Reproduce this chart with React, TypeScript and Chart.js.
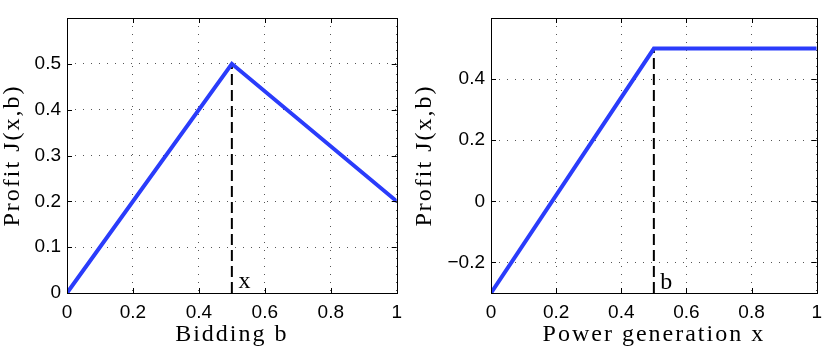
import React, { useEffect, useRef } from 'react';
import { Chart, registerables } from 'chart.js';

Chart.register(...registerables);

// ---- data ----
const xTicks = [0, 0.2, 0.4, 0.6, 0.8, 1];

const bidX = [0, 0.5, 1];
const bidProfit = [0, 0.5, 0.2];
const bidYTicks = [0, 0.1, 0.2, 0.3, 0.4, 0.5];
const bidMarkerX = [0.5, 0.5];
const bidMarkerY = [0, 0.5];

const powX = [0, 0.5, 1];
const powProfit = [-0.3, 0.5, 0.5];
const powYTicks = [-0.2, 0, 0.2, 0.4];
const powMarkerX = [0.5, 0.5];
const powMarkerY = [-0.3, 0.5];

const BLUE = '#2a3cfb';
const SERIF = '"Liberation Serif", "Times New Roman", serif';
const SANS = '"Liberation Sans", Arial, sans-serif';

const fmt = (v: number) => (v < 0 ? '\u2212' + String(Math.abs(v)) : String(v));

const decor = {
  id: 'decor',
  afterDraw(chart: any, _args: any, opts: any) {
    const { ctx, chartArea: a, scales } = chart;
    const x = scales.x;
    const y = scales.y;
    ctx.save();
    ctx.strokeStyle = '#000';
    ctx.lineWidth = 1;
    ctx.setLineDash([]);
    ctx.beginPath();
    for (const t of opts.xTicks) {
      const px = Math.round(x.getPixelForValue(t)) + 0.5;
      ctx.moveTo(px, a.bottom);
      ctx.lineTo(px, a.bottom - 5);
      ctx.moveTo(px, a.top);
      ctx.lineTo(px, a.top + 5);
    }
    for (const t of opts.yTicks) {
      const py = Math.round(y.getPixelForValue(t)) + 0.5;
      ctx.moveTo(a.left, py);
      ctx.lineTo(a.left + 5, py);
      ctx.moveTo(a.right, py);
      ctx.lineTo(a.right - 5, py);
    }
    ctx.stroke();
    ctx.strokeRect(
      Math.round(a.left) + 0.5,
      Math.round(a.top) + 0.5,
      Math.round(a.right - a.left),
      Math.round(a.bottom - a.top)
    );
    ctx.fillStyle = '#000';
    ctx.font = '24px ' + SERIF;
    ctx.textAlign = 'left';
    ctx.textBaseline = 'alphabetic';
    ctx.fillText(opts.label, x.getPixelForValue(opts.labelX), y.getPixelForValue(opts.labelY));

    (ctx as any).letterSpacing = '2px';
    ctx.textAlign = 'center';
    ctx.fillText(opts.xTitle, (a.left + a.right) / 2, opts.xTitleBaseline);
    ctx.translate(opts.yTitleX, (a.top + a.bottom) / 2);
    ctx.rotate(-Math.PI / 2);
    ctx.fillText(opts.yTitle, 0, 0);
    ctx.restore();
  },
};

type PanelProps = {
  left: number;
  width: number;
  xs: number[];
  ys: number[];
  mx: number[];
  my: number[];
  yMin: number;
  yMax: number;
  yTicks: number[];
  yAxisWidth: number;
  padRight: number;
  xTitle: string;
  yTitle: string;
  label: string;
  labelX: number;
  labelY: number;
  yTitleX: number;
};

function Panel(p: PanelProps) {
  const ref = useRef<HTMLCanvasElement | null>(null);
  useEffect(() => {
    if (!ref.current) return;
    const tickFont = { family: SANS, size: 19 };
    const chart = new Chart(ref.current, {
      type: 'line',
      data: {
        datasets: [
          {
            data: p.xs.map((v, i) => ({ x: v, y: p.ys[i] })),
            borderColor: BLUE,
            borderWidth: 4,
            pointRadius: 0,
            tension: 0,
            fill: false,
          },
          {
            data: p.mx.map((v, i) => ({ x: v, y: p.my[i] })),
            borderColor: '#000',
            borderWidth: 2,
            borderDash: [11, 5],
            pointRadius: 0,
            tension: 0,
            fill: false,
          },
        ],
      },
      options: {
        responsive: false,
        animation: false,
        devicePixelRatio: 1,
        layout: { padding: { top: 18, right: p.padRight, left: 0, bottom: 0 } },
        plugins: {
          legend: { display: false },
          tooltip: { enabled: false },
          decor: {
            xTicks,
            yTicks: p.yTicks,
            label: p.label,
            labelX: p.labelX,
            labelY: p.labelY,
            xTitle: p.xTitle,
            yTitle: p.yTitle,
            xTitleBaseline: 341,
            yTitleX: p.yTitleX,
          },
        } as any,
        scales: {
          x: {
            type: 'linear',
            min: 0,
            max: 1,
            afterBuildTicks: (s: any) => {
              s.ticks = xTicks.map((v) => ({ value: v }));
            },
            afterFit: (s: any) => {
              s.height = 63;
            },
            grid: { color: '#555', lineWidth: 1, drawTicks: false },
            border: { display: false, dash: [1, 7] },
            ticks: {
              font: tickFont,
              color: '#000',
              padding: 8,
              maxRotation: 0,
              autoSkip: false,
              callback: (v: any) => fmt(Number(v)),
            },
          },
          y: {
            type: 'linear',
            min: p.yMin,
            max: p.yMax,
            afterBuildTicks: (s: any) => {
              s.ticks = p.yTicks.map((v) => ({ value: v }));
            },
            afterFit: (s: any) => {
              s.width = p.yAxisWidth;
            },
            grid: { color: '#555', lineWidth: 1, drawTicks: false },
            border: { display: false, dash: [1, 7] },
            ticks: {
              font: tickFont,
              color: '#000',
              padding: 6,
              autoSkip: false,
              callback: (v: any) => fmt(Number(v)),
            },
          },
        },
      },
      plugins: [decor as any],
    });
    return () => chart.destroy();
  }, []);
  return (
    <canvas
      ref={ref}
      width={p.width}
      height={356}
      style={{ position: 'absolute', left: p.left, top: 0, width: p.width, height: 356 }}
    />
  );
}

export default function App() {
  return (
    <div style={{ position: 'fixed', left: 0, top: 0, width: 830, height: 356, background: '#fff' }}>
      <Panel
        left={0}
        width={410}
        xs={bidX}
        ys={bidProfit}
        mx={bidMarkerX}
        my={bidMarkerY}
        yMin={0}
        yMax={0.6}
        yTicks={bidYTicks}
        yAxisWidth={67}
        padRight={10}
        xTitle="Bidding b"
        yTitle="Profit J(x,b)"
        label="x"
        labelX={0.52}
        labelY={0.01}
        yTitleX={19}
      />
      <Panel
        left={410}
        width={420}
        xs={powX}
        ys={powProfit}
        mx={powMarkerX}
        my={powMarkerY}
        yMin={-0.3}
        yMax={0.6}
        yTicks={powYTicks}
        yAxisWidth={81}
        padRight={12}
        xTitle="Power generation x"
        yTitle="Profit J(x,b)"
        label="b"
        labelX={0.52}
        labelY={-0.287}
        yTitleX={21}
      />
    </div>
  );
}
